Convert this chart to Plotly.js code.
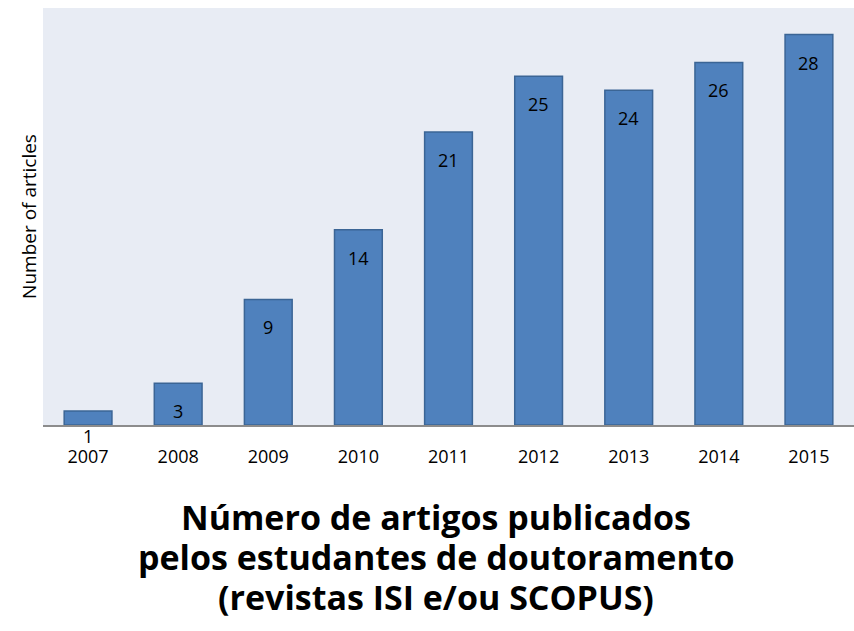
<!DOCTYPE html>
<html>
<head>
<meta charset="utf-8">
<script src="https://cdn.plot.ly/plotly-3.0.1.min.js"></script>
<style>html,body{margin:0;padding:0;background:#fff;}#chart{width:854px;height:631px;}</style>
</head>
<body>
<div id="chart"></div>
<script>
const years = ['2007','2008','2009','2010','2011','2012','2013','2014','2015'];
const articles = [1, 3, 9, 14, 21, 25, 24, 26, 28];
const yTitle = 'Number of articles';
const titleLines = ['Número de artigos publicados', 'pelos estudantes de doutoramento', '(revistas ISI e/ou SCOPUS)'];

const FONT = '"Open Sans", Lato, sans-serif';

const trace = {
  type: 'bar',
  x: years,
  y: articles,
  marker: {color: '#4F81BD', line: {color: '#3B6595', width: 1.5}},
  hoverinfo: 'x+y'
};

// value labels: inside near top, except the small first bar (below baseline)
const annotations = years.map((yr, i) => {
  const small = articles[i] < 2;
  return {
    x: i, y: small ? 0 : articles[i],
    xref: 'x', yref: 'y',
    text: String(articles[i]),
    showarrow: false,
    yanchor: small ? 'top' : 'middle',
    yshift: small ? 3 : -28,
    font: {family: FONT, size: 18, color: '#000'}
  };
});

// chart title below the plot, one annotation per line
const titleY = [-0.221, -0.3165, -0.4125];
titleLines.forEach((line, k) => {
  annotations.push({
    xref: 'paper', yref: 'paper',
    x: 0.485, y: titleY[k],
    xanchor: 'center', yanchor: 'middle',
    text: '<b>' + line + '</b>',
    showarrow: false,
    font: {family: FONT, size: 34, color: '#000'}
  });
});

const layout = {
  width: 854, height: 631,
  margin: {l: 43, r: 0, t: 8, b: 206},
  paper_bgcolor: '#ffffff',
  plot_bgcolor: '#E8ECF4',
  bargap: 0.47,
  showlegend: false,
  xaxis: {
    type: 'category',
    range: [-0.5, years.length - 0.5],
    showline: true, linecolor: '#8C8C8C', linewidth: 2,
    ticks: 'outside', ticklen: 14, tickcolor: 'rgba(0,0,0,0)',
    tickfont: {family: FONT, size: 18, color: '#000'},
    showgrid: false, zeroline: false
  },
  yaxis: {
    range: [0, 29.9],
    showticklabels: false, showgrid: false, zeroline: false, ticks: '',
    title: {text: yTitle, standoff: 0, font: {family: FONT, size: 19, color: '#000'}}
  },
  annotations: annotations
};

Plotly.newPlot('chart', [trace], layout, {displayModeBar: false, staticPlot: true});
</script>
</body>
</html>
